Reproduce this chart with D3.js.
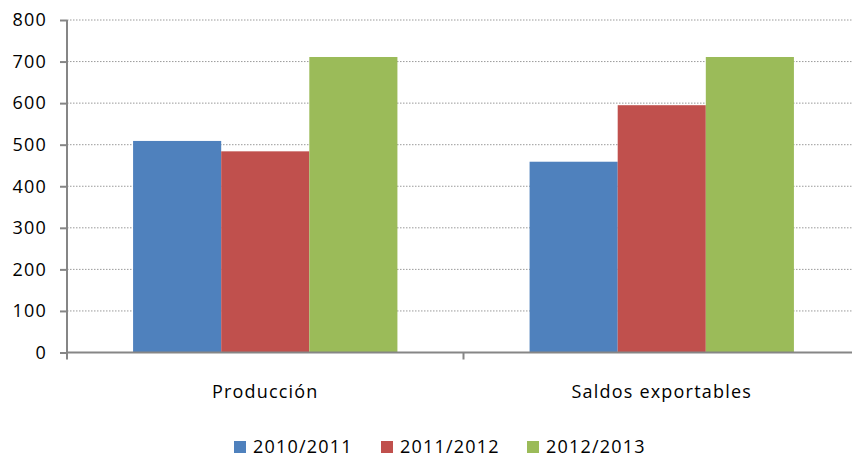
<!DOCTYPE html>
<html><head><meta charset="utf-8">
<script src="https://cdn.jsdelivr.net/npm/d3@7"></script>
<style>body{margin:0;background:#fff}svg{display:block}text{font-family:"Open Sans",sans-serif;fill:#000;letter-spacing:1.2px}</style>
</head><body>
<svg id="c" width="852" height="459"></svg>
<script>
const categories = ["Producción", "Saldos exportables"];
const seriesNames = ["2010/2011", "2011/2012", "2012/2013"];
const series2010 = [509, 459];
const series2011 = [484, 595];
const series2012 = [711, 711];
const yTicks = [0, 100, 200, 300, 400, 500, 600, 700, 800];
const colors = ["#4F81BD", "#C0504D", "#9BBB59"];

const values = [series2010, series2011, series2012];
const svg = d3.select("#c");
const mLeft = 67, mRight = 860, mTop = 20, mBottom = 352.5;
const x = d3.scaleBand().domain(categories).range([mLeft, mRight]).paddingInner(0).paddingOuter(0);
const xs = d3.scaleBand().domain(seriesNames).range([0, x.bandwidth()]).paddingOuter(0.75).paddingInner(0);
const y = d3.scaleLinear().domain([0, 800]).range([mBottom, mTop]);

// gridlines
svg.append("g").selectAll("line").data(yTicks.filter(d => d > 0)).join("line")
  .attr("x1", mLeft).attr("x2", 852).attr("y1", d => y(d)).attr("y2", d => y(d))
  .attr("stroke", "#9a9a9a").attr("stroke-width", 1).attr("stroke-dasharray", "1.5,1.5");

// bars
categories.forEach((c, ci) => {
  seriesNames.forEach((s, si) => {
    svg.append("rect")
      .attr("x", x(c) + xs(s)).attr("width", xs.bandwidth())
      .attr("y", y(values[si][ci])).attr("height", y(0) - y(values[si][ci]))
      .attr("fill", colors[si]);
  });
});

// y axis
const yAxis = svg.append("g").attr("transform", `translate(${mLeft},0)`)
  .call(d3.axisLeft(y).tickValues(yTicks).tickSize(7).tickPadding(13).tickFormat(d3.format("d")));
yAxis.select(".domain").attr("stroke", "#868686").attr("stroke-width", 2).attr("d", `M0,${mTop}V${mBottom + 7}`);
yAxis.selectAll(".tick line").attr("stroke", "#868686").attr("stroke-width", 2);
yAxis.selectAll(".tick text").attr("font-size", 18).attr("font-family", "Open Sans").attr("fill", "#000");

// x axis
const xAxis = svg.append("g").attr("transform", `translate(0,${mBottom})`);
xAxis.append("line").attr("x1", mLeft).attr("x2", 852).attr("y1", 0).attr("y2", 0)
  .attr("stroke", "#868686").attr("stroke-width", 2);
xAxis.selectAll("line.t").data(categories.slice(1)).join("line").attr("class", "t")
  .attr("x1", d => x(d)).attr("x2", d => x(d)).attr("y1", 0).attr("y2", 7)
  .attr("stroke", "#868686").attr("stroke-width", 2);
xAxis.selectAll("text").data(categories).join("text")
  .attr("x", d => x(d) + x.bandwidth() / 2).attr("y", 45)
  .attr("text-anchor", "middle").attr("font-size", 18).text(d => d);

// legend
const legX = [234, 381, 527];
const leg = svg.append("g");
seriesNames.forEach((s, i) => {
  leg.append("rect").attr("x", legX[i]).attr("y", 441).attr("width", 12).attr("height", 12).attr("fill", colors[i]);
  leg.append("text").attr("x", legX[i] + 19).attr("y", 453).attr("font-size", 18).text(s);
});
</script>
</body></html>
